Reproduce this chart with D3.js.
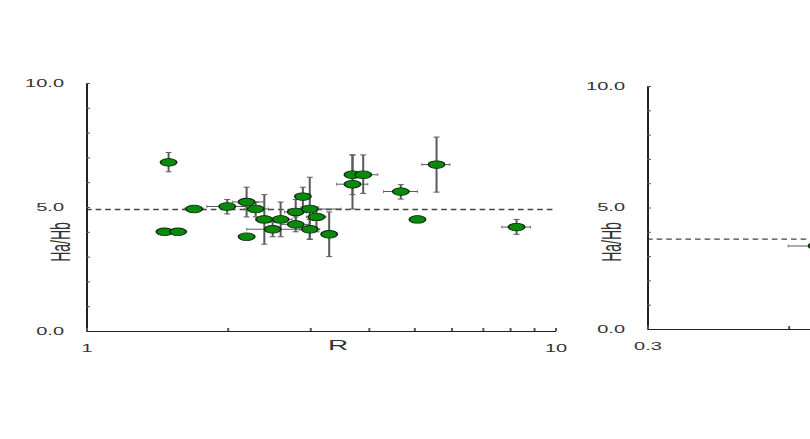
<!DOCTYPE html>
<html>
<head>
<meta charset="utf-8">
<script src="https://cdn.jsdelivr.net/npm/d3@7"></script>
<style>
  body { margin: 0; background: #fff; overflow: hidden; }
  svg text { font-family: "Liberation Sans", Arial, sans-serif; fill: #333; }
</style>
</head>
<body>
<svg id="chart"></svg>
<script>
// left panel: R vs Ha/Hb
const rValues  = [1.50, 1.47, 1.57, 1.70, 2.00, 2.20, 2.20, 2.30, 2.40, 2.50, 2.60, 2.80, 2.80, 2.90, 3.00, 3.00, 3.10, 3.30, 3.70, 3.70, 3.90, 4.69, 5.09, 5.59, 8.28];
const haHb     = [6.80, 4.00, 4.00, 4.92, 5.02, 5.20, 3.80, 4.92, 4.50, 4.10, 4.50, 4.80, 4.30, 5.42, 4.92, 4.10, 4.60, 3.90, 5.92, 6.30, 6.30, 5.62, 4.50, 6.71, 4.19];
const haHbLow  = [6.42, 4.00, 4.00, 4.80, 4.72, 4.60, 3.70, 4.60, 3.50, 3.80, 3.80, 4.40, 4.00, 5.00, 3.70, 3.70, 4.00, 3.00, 4.92, 5.50, 5.55, 5.32, 4.40, 5.60, 3.90];
const haHbHigh = [7.20, 4.00, 4.00, 5.05, 5.30, 5.80, 3.90, 5.20, 5.50, 4.40, 5.20, 5.30, 4.60, 5.80, 6.20, 4.50, 5.00, 4.80, 7.10, 7.10, 7.10, 5.90, 4.60, 7.82, 4.50];
const rLow     = [1.50, 1.44, 1.53, 1.62, 1.81, 2.05, 2.20, 2.18, 2.30, 2.20, 2.45, 2.65, 2.60, 2.90, 2.80, 2.85, 2.95, 3.30, 3.42, 3.70, 3.70, 4.31, 5.09, 5.20, 7.70];
const rHigh    = [1.50, 1.50, 1.64, 1.78, 2.20, 2.40, 2.20, 2.45, 2.60, 2.90, 2.75, 2.95, 3.00, 2.90, 3.50, 3.15, 3.25, 3.30, 3.99, 3.70, 4.19, 5.09, 5.09, 5.97, 8.87];
const leftRef  = 4.9;

// right panel (mostly cut off)
const rightX     = [0.69];
const rightY     = [3.42];
const rightYLow  = [3.42];
const rightYHigh = [3.42];
const rightXLow  = [0.60];
const rightXHigh = [0.78];
const rightRef   = 3.7;

const yTicks      = [0, 1, 2, 3, 4, 5, 6, 7, 8, 9, 10];
const yLabels     = [0, 5, 10];
const leftXTicks  = [1, 2, 3, 4, 5, 6, 7, 8, 9, 10];
const leftXLabels = [1, 10];
const rightXTicks = [0.3, 0.6];
const rightXLabels = [0.3];

// the picture is stretched 2x horizontally; draw in half-width units
const W = 810, H = 439, SX = 2;
const svg = d3.select("#chart")
  .attr("width", W).attr("height", H)
  .attr("viewBox", `0 0 ${W / SX} ${H}`)
  .attr("preserveAspectRatio", "none");

function panel(cfg) {
  const x = d3.scaleLog().domain(cfg.xDomain).range(cfg.xRange);
  const y = d3.scaleLinear().domain([0, 10]).range(cfg.yRange);
  const g = svg.append("g");

  // reference line
  g.append("line")
    .attr("x1", x(cfg.xDomain[0])).attr("x2", x(cfg.xDomain[1]))
    .attr("y1", y(cfg.ref)).attr("y2", y(cfg.ref))
    .attr("stroke", "#444").attr("stroke-width", 1.3)
    .attr("stroke-dasharray", "2.8,2");

  const yAxis = g.append("g")
    .attr("transform", `translate(${cfg.xRange[0]},0)`)
    .call(d3.axisLeft(y).tickValues(yTicks).tickSizeInner(-2).tickSizeOuter(0).tickPadding(11)
      .tickFormat(d => yLabels.includes(d) ? d.toFixed(1) : ""));
  yAxis.selectAll("text").attr("font-size", 10).attr("fill", "#333");
  yAxis.select(".domain").attr("stroke", "#222");
  yAxis.selectAll(".tick line").attr("stroke", "#555");

  const xAxis = g.append("g")
    .attr("transform", `translate(0,${cfg.yRange[0]})`)
    .call(d3.axisBottom(x).tickValues(cfg.xTicks).tickSizeInner(-3).tickSizeOuter(0).tickPadding(14)
      .tickFormat(d => cfg.xLabels.includes(d) ? String(d) : ""));
  xAxis.selectAll("text").attr("font-size", 10).attr("fill", "#333");
  xAxis.select(".domain").attr("stroke", "#222");
  xAxis.selectAll(".tick line").attr("stroke", "#555");

  if (cfg.xTitle) {
    g.append("text")
      .attr("x", cfg.xTitleX).attr("y", cfg.yRange[0] + 19)
      .attr("text-anchor", "middle").attr("font-size", 14)
      .text(cfg.xTitle);
  }

  g.append("text")
    .attr("transform", `translate(${cfg.yTitleX},${cfg.yTitleY}) rotate(-90)`)
    .attr("text-anchor", "middle").attr("dy", "0.35em")
    .attr("font-size", 14).attr("fill", "#111")
    .text("Ha/Hb");

  const pts = cfg.xs.map((v, i) => ({
    x: v, y: cfg.ys[i], yl: cfg.yl[i], yh: cfg.yh[i], xl: cfg.xl[i], xh: cfg.xh[i]
  }));

  const bars = g.append("g").attr("stroke", "#5a5a5a").attr("stroke-width", 1);
  pts.forEach(p => {
    if (p.xh > p.xl) {
      bars.append("line").attr("x1", x(p.xl)).attr("x2", x(p.xh)).attr("y1", y(p.y)).attr("y2", y(p.y));
      [p.xl, p.xh].forEach(v => bars.append("line")
        .attr("x1", x(v)).attr("x2", x(v)).attr("y1", y(p.y) - 1.5).attr("y2", y(p.y) + 1.5)
        .attr("stroke-width", 0.5));
    }
    if (p.yh > p.yl) {
      bars.append("line").attr("x1", x(p.x)).attr("x2", x(p.x)).attr("y1", y(p.yl)).attr("y2", y(p.yh));
      [p.yl, p.yh].forEach(v => bars.append("line")
        .attr("x1", x(p.x) - 1.5).attr("x2", x(p.x) + 1.5).attr("y1", y(v)).attr("y2", y(v)));
    }
  });

  g.append("g").selectAll("ellipse")
    .data(pts).enter().append("ellipse")
    .attr("cx", d => x(d.x)).attr("cy", d => y(d.y))
    .attr("rx", 4.1).attr("ry", 3.8)
    .attr("fill", "#0a8a0a").attr("stroke", "#0b2a0b").attr("stroke-width", 0.8);
}

panel({
  xDomain: [1, 10], xRange: [86 / SX, 555 / SX], yRange: [331, 83],
  xTicks: leftXTicks, xLabels: leftXLabels, ref: leftRef,
  xTitle: "R", xTitleX: 338 / SX, yTitleX: 60 / SX, yTitleY: 242,
  xs: rValues, ys: haHb, yl: haHbLow, yh: haHbHigh, xl: rLow, xh: rHigh
});

panel({
  xDomain: [0.3, 3], xRange: [647 / SX, 1116 / SX], yRange: [329, 86],
  xTicks: rightXTicks, xLabels: rightXLabels, ref: rightRef,
  xTitle: null, yTitleX: 611 / SX, yTitleY: 242,
  xs: rightX, ys: rightY, yl: rightYLow, yh: rightYHigh, xl: rightXLow, xh: rightXHigh
});
</script>
</body>
</html>
